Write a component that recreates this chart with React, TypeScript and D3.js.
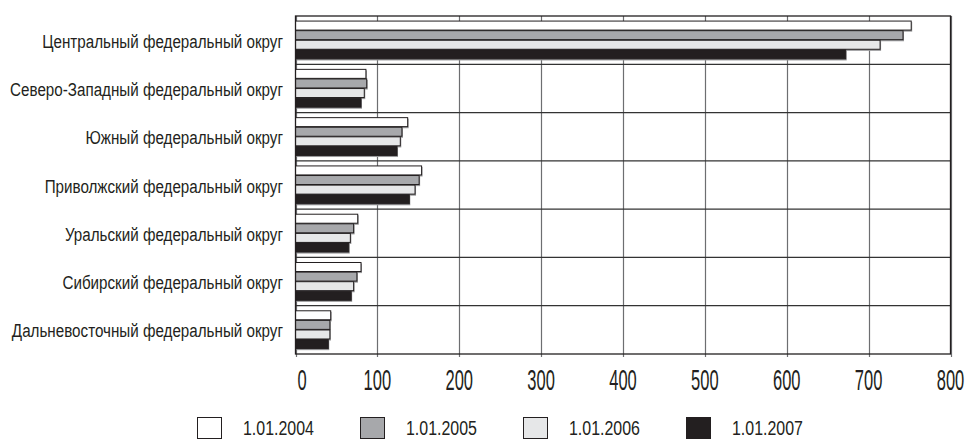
import React from "react";
import * as d3 from "d3";

const categories = [
  "Центральный федеральный округ",
  "Северо-Западный федеральный округ",
  "Южный федеральный округ",
  "Приволжский федеральный округ",
  "Уральский федеральный округ",
  "Сибирский федеральный округ",
  "Дальневосточный федеральный округ",
];
const seriesNames = ["1.01.2004", "1.01.2005", "1.01.2006", "1.01.2007"];
const v2004 = [752, 86, 137, 154, 76, 80, 43];
const v2005 = [742, 87, 130, 151, 71, 75, 42];
const v2006 = [714, 84, 128, 146, 67, 71, 42];
const v2007 = [672, 80, 124, 139, 65, 68, 40];
const seriesValues = [v2004, v2005, v2006, v2007];
const xTicks = [0, 100, 200, 300, 400, 500, 600, 700, 800];
const colors = ["#ffffff", "#a7a8ab", "#e6e7e8", "#231f20"];

const W = 966;
const H = 439;
const FONT = "'Liberation Sans', Arial, sans-serif";

export default function App() {
  const left = 295.5;
  const right = 950.5;
  const top = 16;
  const bottom = 354;
  const x = d3.scaleLinear().domain([0, 800]).range([left, right]);
  const y = d3.scaleBand<string>().domain(categories).range([top, bottom]).padding(0);
  const bw = y.bandwidth();
  const inner = d3
    .scaleBand<string>()
    .domain(seriesNames)
    .range([bw * 0.105, bw * 0.9])
    .padding(0);

  const legendX = d3.scaleLinear().domain([0, 1]).range([197, 360]);

  return (
    <div style={{ position: "absolute", left: 0, top: 0 }}>
      <svg width={W} height={H} style={{ display: "block", background: "#fff" }}>
        {/* vertical grid lines */}
        {xTicks.map((t) => (
          <line
            key={"g" + t}
            x1={Math.round(x(t)) + 0.5}
            x2={Math.round(x(t)) + 0.5}
            y1={top}
            y2={bottom + 3}
            stroke="#6d6e71"
            strokeWidth={1.2}
          />
        ))}
        {/* horizontal separators */}
        {categories.map((c, i) =>
          i === 0 ? null : (
            <line
              key={"s" + c}
              x1={left}
              x2={right}
              y1={y(c) as number}
              y2={y(c) as number}
              stroke="#333"
              strokeWidth={1.2}
            />
          )
        )}
        {/* bars */}
        {categories.map((c, i) =>
          seriesNames.map((s, j) => {
            const v = seriesValues[j][i];
            const by = (y(c) as number) + (inner(s) as number);
            return (
              <g key={c + s}>
                <rect
                  x={x(0) + 1}
                  y={by + 1}
                  width={x(v) - x(0)}
                  height={inner.bandwidth()}
                  fill="#9a9a9c"
                />
                <rect
                  x={x(0)}
                  y={by}
                  width={x(v) - x(0)}
                  height={inner.bandwidth() - 0.6}
                  fill={colors[j]}
                  stroke="#231f20"
                  strokeWidth={1}
                />
              </g>
            );
          })
        )}
        {/* frame */}
        <rect x={left} y={top} width={right - left} height={bottom - top} fill="none" stroke="#231f20" strokeWidth={1.3} />
        {/* category labels */}
        {categories.map((c) => (
          <text
            key={"l" + c}
            transform={`translate(283,${(y(c) as number) + bw / 2 + 7.5}) scale(0.8,1)`}
            textAnchor="end"
            fontFamily={FONT}
            fontSize={19}
            fill="#231f20"
          >
            {c}
          </text>
        ))}
        {/* x tick labels */}
        {xTicks.map((t, i) => (
          <text
            key={"t" + t}
            transform={`translate(${i === 0 ? x(t) + 2 : x(t)},390) scale(0.55,1)`}
            textAnchor={i === 0 ? "start" : "middle"}
            fontFamily={FONT}
            fontSize={30}
            fill="#231f20"
          >
            {t}
          </text>
        ))}
        {/* legend */}
        {seriesNames.map((s, j) => (
          <g key={"lg" + s} transform={`translate(${legendX(j)},417)`}>
            <rect x={0.5} y={0.5} width={24} height={21} fill={colors[j]} stroke="#231f20" strokeWidth={1} />
            <text
              transform="translate(46,18) scale(0.76,1)"
              fontFamily={FONT}
              fontSize={21}
              fill="#231f20"
            >
              {s}
            </text>
          </g>
        ))}
      </svg>
    </div>
  );
}
